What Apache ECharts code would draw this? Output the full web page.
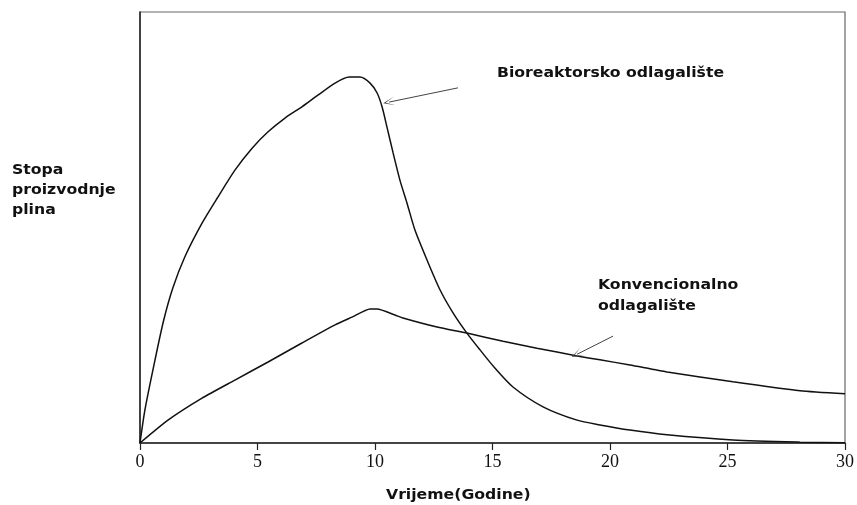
<!DOCTYPE html>
<html>
<head>
<meta charset="utf-8">
<script src="https://cdn.jsdelivr.net/npm/echarts@6/dist/echarts.min.js"></script>
<style>
html,body{margin:0;padding:0;background:#fff;}
#chart{width:857px;height:505px;}
</style>
</head>
<body>
<div id="chart"></div>
<script>
// Years (x) and relative gas production rate (y, 0-100 scale)
var bioYears = [0, 0.21, 0.64, 1.00, 1.40, 1.91, 2.64, 3.32, 4.04, 4.77, 5.45, 6.17, 6.89, 7.57, 8.30, 8.90, 9.36, 9.79, 10.09, 10.30, 10.51, 10.77, 11.06, 11.36, 11.70, 12.21, 12.77, 13.32, 13.91, 14.47, 15.10, 15.87, 17.15, 18.60, 19.57, 20.85, 22.43, 25.23, 28.09, 30];
var bioRate  = [0, 7.7, 19.3, 28.3, 36.0, 43.2, 51.0, 57.1, 63.3, 68.4, 72.2, 75.4, 78.0, 80.7, 83.5, 84.9, 84.9, 83.5, 81.2, 78.0, 73.3, 67.3, 61.0, 55.7, 49.4, 42.5, 35.5, 30.2, 25.5, 21.6, 17.4, 13.0, 8.4, 5.3, 4.2, 3.0, 1.9, 0.7, 0.2, 0.05];
var convYears = [0, 1.19, 2.64, 4.04, 5.45, 6.89, 8.30, 9.02, 9.79, 10.09, 10.85, 11.19, 12.64, 13.91, 15.45, 16.89, 18.60, 19.57, 20.85, 22.43, 25.23, 28.09, 30];
var convRate  = [0, 5.3, 10.4, 14.6, 18.8, 23.2, 27.4, 29.2, 31.1, 31.1, 29.7, 29.0, 26.9, 25.5, 23.6, 22.0, 20.2, 19.3, 18.1, 16.5, 14.2, 12.1, 11.4];
var xTicks = [0, 5, 10, 15, 20, 25, 30];
var bioName = 'Bioreaktorsko odlagalište';
var convName = ['Konvencionalno', 'odlagalište'];
var yName = ['Stopa', 'proizvodnje', 'plina'];
var xName = 'Vrijeme(Godine)';
// annotation arrows: [from, to] in data coords
var bioArrow = [[13.53, 82.4], [10.60, 79.1]];
var convArrow = [[20.13, 24.8], [18.60, 20.6]];

function zip(xs, ys){ return xs.map(function(x,i){ return [x, ys[i]]; }); }

var chart = echarts.init(document.getElementById('chart'));
var arrowSym = 'path://M5,0 L10,12 L5,2.5 L0,12 Z';
var boldFont = '"DejaVu Sans", Verdana, sans-serif';
var txt = function(left, top, text, lh){
  return {type: 'text', left: left, top: top, scaleX: 1.12,
    style: {text: text, font: 'bold 14px ' + boldFont, fill: '#111', lineHeight: lh || 20}};
};

chart.setOption({
  animation: false,
  backgroundColor: '#fff',
  grid: {left: 140, top: 12, right: 12, bottom: 62, show: true, borderColor: '#666', borderWidth: 1.2, backgroundColor: 'transparent'},
  xAxis: {
    type: 'value', min: 0, max: 30, interval: 5,
    axisLine: {lineStyle: {color: '#222', width: 1.5}},
    axisTick: {show: true, inside: false, length: 7, lineStyle: {color: '#222', width: 1.2}},
    axisLabel: {
      color: '#111', fontFamily: '"Liberation Serif", "Times New Roman", serif', fontSize: 18, margin: 10,
      formatter: function(v){ return xTicks.indexOf(v) >= 0 ? String(v) : ''; }
    },
    splitLine: {show: false}
  },
  yAxis: {
    type: 'value', min: 0, max: 100,
    axisLine: {show: true, lineStyle: {color: '#222', width: 1.5}},
    axisTick: {show: false}, axisLabel: {show: false}, splitLine: {show: false}
  },
  graphic: [
    txt(12, 160, yName.join('\n'), 20),
    txt(497, 63, bioName),
    txt(598, 275, convName.join('\n'), 21),
    txt(386, 485, xName)
  ],
  series: [
    {
      name: bioName, type: 'line', data: zip(bioYears, bioRate), smooth: 0.25, showSymbol: false,
      lineStyle: {color: '#111', width: 1.5},
      markLine: {
        silent: true, symbol: ['none', arrowSym], symbolSize: [9, 12],
        lineStyle: {color: '#444', width: 1, type: 'solid'}, label: {show: false},
        data: [[{coord: bioArrow[0]}, {coord: bioArrow[1]}]]
      }
    },
    {
      name: convName.join(' '), type: 'line', data: zip(convYears, convRate), smooth: 0.2, showSymbol: false,
      lineStyle: {color: '#111', width: 1.5},
      markLine: {
        silent: true, symbol: ['none', arrowSym], symbolSize: [9, 12],
        lineStyle: {color: '#444', width: 1, type: 'solid'}, label: {show: false},
        data: [[{coord: convArrow[0]}, {coord: convArrow[1]}]]
      }
    }
  ]
});
</script>
</body>
</html>
